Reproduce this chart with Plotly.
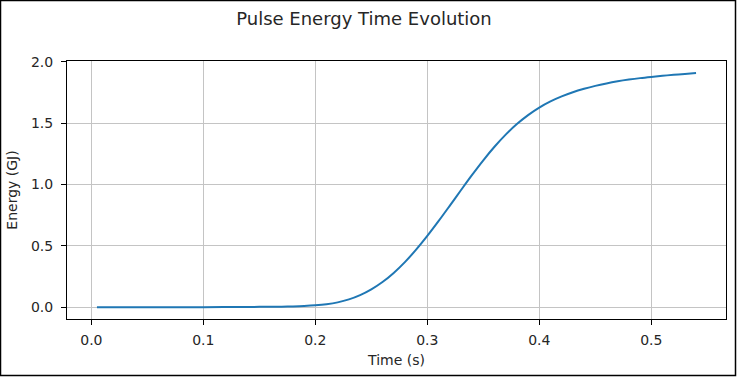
import plotly.graph_objects as go

# Data
time_s = [0.005, 0.05, 0.10, 0.15, 0.16, 0.17, 0.18, 0.19, 0.20, 0.21, 0.22, 0.23,
          0.24, 0.25, 0.26, 0.27, 0.28, 0.29, 0.30, 0.31, 0.32, 0.33, 0.34, 0.35,
          0.36, 0.37, 0.38, 0.39, 0.40, 0.41, 0.42, 0.43, 0.44, 0.45, 0.46, 0.47,
          0.48, 0.49, 0.50, 0.51, 0.52, 0.53, 0.54]
energy_gj = [0.0, 0.0001, 0.0005, 0.0033, 0.004, 0.0052, 0.0072, 0.0105, 0.016, 0.025,
             0.040, 0.064, 0.099, 0.146, 0.206, 0.280, 0.368, 0.469, 0.581, 0.701,
             0.826, 0.953, 1.078, 1.197, 1.307, 1.406, 1.492, 1.565, 1.626, 1.676,
             1.717, 1.751, 1.779, 1.803, 1.823, 1.840, 1.854, 1.866, 1.876, 1.885,
             1.893, 1.900, 1.907]
x_ticks = [0.0, 0.1, 0.2, 0.3, 0.4, 0.5]
y_ticks = [0.0, 0.5, 1.0, 1.5, 2.0]

W, H = 737, 377
ML, MR, MT, MB = 67, 11, 61, 58
PW, PH = W - ML - MR, H - MT - MB

FONT = "DejaVu Sans"
TXT = "#262626"

fig = go.Figure()
fig.add_trace(go.Scatter(
    x=time_s, y=energy_gj, mode="lines",
    line=dict(color="#1f77b4", width=2, shape="spline", smoothing=1.0),
    showlegend=False, hoverinfo="skip"))

xmin, xmax = min(time_s), max(time_s)
ymin, ymax = min(energy_gj), max(energy_gj)
xpad = (xmax - xmin) * 0.05
ypad = (ymax - ymin) * 0.05

axis_common = dict(
    showline=True, linecolor="#000000", linewidth=1, mirror=True,
    ticks="outside", ticklen=5, tickwidth=1, tickcolor="#000000",
    showgrid=True, gridcolor="#c4c4c4", gridwidth=1, zeroline=False,
    tickfont=dict(family=FONT, size=14, color=TXT),
)

fig.update_xaxes(
    range=[xmin - xpad, 0.54 + xpad], tickvals=x_ticks,
    ticktext=[f"{v:.1f}" for v in x_ticks],
    title=dict(text="Time (s)", font=dict(family=FONT, size=14, color=TXT), standoff=8),
    ticklabelstandoff=3,
    **axis_common)
fig.update_yaxes(
    range=[ymin - 0.0955, 2.0055], tickvals=y_ticks,
    ticktext=[f"{v:.1f}" for v in y_ticks],
    title=dict(text="Energy (GJ)", font=dict(family=FONT, size=14, color=TXT), standoff=10),
    ticklabelstandoff=5,
    **axis_common)

# outer black frame of the picture (paper coords relative to plot area)
def px_x(p):
    return (p - ML) / PW

def px_y(p):
    return (H - MB - p) / PH

fig.add_shape(type="rect", xref="paper", yref="paper",
              x0=px_x(0.5), x1=px_x(735.5), y0=px_y(375.5), y1=px_y(0.5),
              line=dict(color="#000000", width=1.5), layer="above")

fig.update_layout(
    width=W, height=H,
    margin=dict(l=ML, r=MR, t=MT, b=MB, autoexpand=False),
    paper_bgcolor="white", plot_bgcolor="white",
    font=dict(family=FONT, color=TXT),
    title=dict(text="Pulse Energy Time Evolution", x=364 / W, xanchor="center",
               xref="container", yref="container", y=1 - 12 / H, yanchor="top",
               font=dict(family=FONT, size=18, color=TXT)),
)

fig.write_html("out.html", config={"displayModeBar": False},
               post_script="document.body.style.margin='0';")
